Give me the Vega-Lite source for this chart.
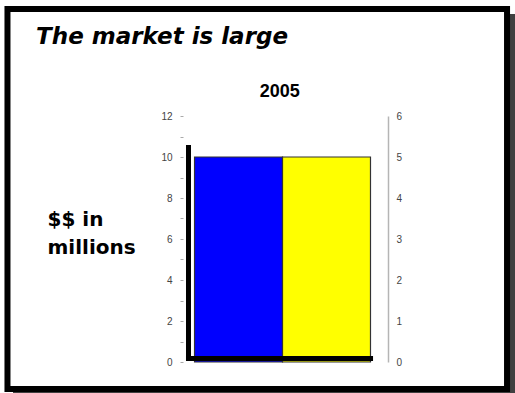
{
  "$schema": "https://vega.github.io/schema/vega-lite/v6.json",
  "width": 205,
  "height": 246,
  "autosize": {"type": "none"},
  "padding": {"left": 183, "top": 116, "right": 127, "bottom": 31},
  "background": "white",
  "config": {"view": {"stroke": null}},
  "resolve": {"scale": {"x": "independent", "y": "independent"}},
  "layer": [
    {
      "data": {"values": [{}]},
      "layer": [
        {
          "mark": {"type": "rect", "fill": "#404040"},
          "encoding": {
            "x": {"datum": -2.062, "type": "quantitative", "scale": {"domain": [-0.13, 2.2], "nice": false, "zero": false}, "axis": null},
            "x2": {"datum": 3.7},
            "y": {"datum": 16.976, "type": "quantitative", "scale": {"domain": [0, 12], "nice": false, "zero": false}, "axis": null},
            "y2": {"datum": -1.854}
          }
        },
        {
          "mark": {"type": "rect", "fill": "white", "stroke": "black", "strokeWidth": 6},
          "encoding": {
            "x": {"datum": -2.125, "type": "quantitative", "axis": null},
            "x2": {"datum": 3.553},
            "y": {"datum": 17.22, "type": "quantitative", "axis": null},
            "y2": {"datum": -1.317}
          }
        }
      ]
    },
    {
      "data": {"values": [
        {"series": "Series 1", "value": 10},
        {"series": "Series 2", "value": 10}
      ]},
      "mark": {"type": "bar", "stroke": "#333333", "strokeWidth": 1.2},
      "encoding": {
        "x": {"field": "series", "type": "nominal", "scale": {"paddingInner": 0, "paddingOuter": 0.165, "align": 0.397}, "axis": null},
        "y": {
          "field": "value", "type": "quantitative",
          "scale": {"domain": [0, 12], "nice": false, "zero": true},
          "axis": {
            "orient": "left",
            "zindex": 1,
            "values": [0, 1, 2, 3, 4, 5, 6, 7, 8, 9, 10, 11, 12],
            "labelExpr": "datum.value % 2 === 0 ? datum.label : ''",
            "domain": false,
            "grid": false,
            "ticks": true,
            "tickSize": 3,
            "tickColor": "#aaaaaa",
            "labelPadding": 8,
            "labelFont": "Liberation Sans",
            "labelFontSize": 10,
            "labelColor": "#444444",
            "title": ["$$ in", "millions"],
            "titleAngle": 0,
            "titleAlign": "left",
            "titleBaseline": "alphabetic",
            "titleX": -136,
            "titleY": 109,
            "titleFont": "DejaVu Sans",
            "titleFontSize": 20,
            "titleFontWeight": "bold",
            "titleLineHeight": 28,
            "titleColor": "black"
          }
        },
        "color": {"field": "series", "type": "nominal", "scale": {"range": ["#0000ff", "#ffff00"]}, "legend": null}
      }
    },
    {
      "data": {"values": [{}]},
      "layer": [
        {
          "mark": {"type": "rule", "color": "black", "strokeWidth": 5},
          "encoding": {
            "x": {"datum": -0.0675, "type": "quantitative", "scale": {"domain": [-0.13, 2.2], "nice": false, "zero": false}, "axis": null},
            "y": {"datum": 10.585, "type": "quantitative", "scale": {"domain": [0, 12], "nice": false, "zero": false}, "axis": null},
            "y2": {"datum": 0.05}
          }
        },
        {
          "mark": {"type": "rule", "color": "black", "strokeWidth": 5},
          "encoding": {
            "x": {"datum": -0.096, "type": "quantitative", "axis": null},
            "x2": {"datum": 2.03},
            "y": {"datum": 0.17, "type": "quantitative", "axis": null}
          }
        },
        {
          "mark": {"type": "text", "text": "The market is large", "font": "DejaVu Sans", "fontSize": 23, "fontWeight": "bold", "fontStyle": "italic", "align": "left", "baseline": "alphabetic", "color": "black"},
          "encoding": {
            "x": {"datum": -1.8, "type": "quantitative", "axis": null},
            "y": {"datum": 15.51, "type": "quantitative", "axis": null}
          }
        },
        {
          "mark": {"type": "text", "text": "2005", "font": "Liberation Sans", "fontSize": 18, "fontWeight": "bold", "align": "center", "baseline": "alphabetic", "color": "black"},
          "encoding": {
            "x": {"datum": 0.97, "type": "quantitative", "axis": null},
            "y": {"datum": 12.95, "type": "quantitative", "axis": null}
          }
        }
      ]
    },
    {
      "data": {"values": [{}]},
      "mark": {"type": "rule", "opacity": 0},
      "encoding": {
        "y": {
          "datum": 0, "type": "quantitative",
          "scale": {"domain": [0, 6], "nice": false, "zero": true},
          "axis": {
            "orient": "right",
            "zindex": 1,
            "values": [0, 1, 2, 3, 4, 5, 6],
            "domain": true,
            "domainColor": "#b5b5b5",
            "domainWidth": 1.5,
            "ticks": false,
            "tickSize": 0,
            "grid": false,
            "labelPadding": 8,
            "labelFont": "Liberation Sans",
            "labelFontSize": 10,
            "labelColor": "#444444",
            "title": null
          }
        }
      }
    }
  ]
}
